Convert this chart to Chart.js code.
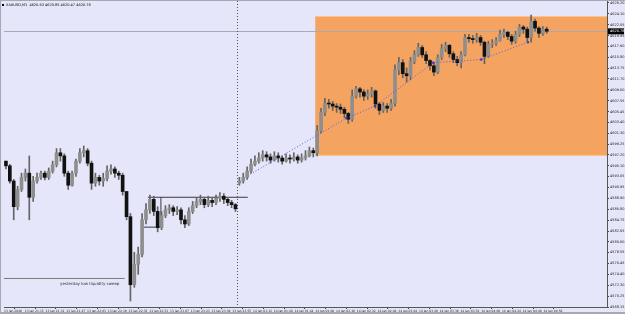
<!DOCTYPE html>
<html>
<head>
<meta charset="utf-8">
<script src="https://cdn.jsdelivr.net/npm/chart.js@4.4.1/dist/chart.umd.min.js"></script>
<style>
html, body { margin: 0; padding: 0; background: #E6E6FA; }
#wrap { width: 625px; height: 314px; position: relative; }
</style>
</head>
<body>
<div id="wrap"><canvas id="chart" width="625" height="314"></canvas></div>
<script>
// XAUUSD M1, shown here as 3-minute candles (bar index = minutes since first bar, break hour removed)
const title = 'XAUUSD,M1  4620.63 4620.85 4620.47 4620.78';
const bidPrice = 4620.78;

const open = [
  4596.0, 4595.1, 4592.2, 4587.3, 4590.6, 4592.9, 4593.7, 4589.1, 4592.2, 4592.9,
  4593.7, 4592.9, 4594.1, 4595.3, 4597.6, 4597.0, 4593.7, 4591.4, 4593.7, 4596.0,
  4597.6, 4598.0, 4595.6, 4591.8, 4592.9, 4592.2, 4592.7, 4594.1, 4594.5, 4593.7,
  4593.3, 4590.2, 4585.4, 4572.4, 4576.3, 4578.2, 4584.8, 4586.7, 4588.7, 4586.4,
  4583.3, 4585.6, 4586.7, 4587.1, 4586.4, 4586.7, 4584.8, 4584.0, 4586.4, 4587.5,
  4588.3, 4588.7, 4587.7, 4588.5, 4588.1, 4588.9, 4589.3, 4588.7, 4588.1, 4587.7,
  4591.8, 4592.2, 4592.9, 4594.1, 4595.4, 4596.0, 4596.6, 4597.2, 4596.8, 4596.2,
  4597.0, 4596.6, 4596.0, 4596.6, 4596.4, 4596.8, 4596.2, 4596.6, 4597.0, 4598.0,
  4597.6, 4601.8, 4605.3, 4607.0, 4606.9, 4606.5, 4606.3, 4605.9, 4605.1, 4604.0,
  4608.4, 4609.8, 4609.2, 4608.4, 4608.8, 4609.4, 4606.9, 4605.7, 4606.5, 4606.1,
  4607.0, 4613.4, 4614.8, 4612.7, 4612.3, 4615.0, 4616.3, 4617.7, 4616.3, 4615.2,
  4614.2, 4613.0, 4615.8, 4617.5, 4618.1, 4616.5, 4615.4, 4614.8, 4616.3, 4619.6,
  4619.4, 4619.2, 4619.6, 4618.7, 4616.0, 4618.3, 4618.5, 4619.0, 4620.2, 4620.6,
  4619.8, 4618.9, 4620.2, 4621.6, 4621.2, 4619.6, 4622.7, 4621.4, 4620.4, 4621.2
];
const high = [
  4596.0, 4595.4, 4592.5, 4591.2, 4593.7, 4594.5, 4597.0, 4593.1, 4593.7, 4594.1,
  4594.1, 4594.7, 4596.0, 4598.4, 4598.4, 4597.4, 4594.1, 4594.1, 4596.4, 4598.4,
  4598.9, 4598.4, 4596.0, 4593.7, 4593.3, 4593.7, 4595.1, 4595.3, 4594.9, 4594.1,
  4593.7, 4590.2, 4586.0, 4578.6, 4579.6, 4586.0, 4587.9, 4589.5, 4589.3, 4587.3,
  4586.4, 4587.5, 4587.7, 4587.5, 4587.3, 4587.1, 4585.6, 4587.1, 4588.3, 4589.1,
  4589.5, 4589.1, 4589.3, 4589.1, 4589.5, 4590.0, 4589.8, 4588.9, 4588.5, 4587.9,
  4592.9, 4593.7, 4594.9, 4596.4, 4597.0, 4597.6, 4598.0, 4597.8, 4597.4, 4597.8,
  4597.6, 4597.0, 4597.4, 4597.2, 4597.6, 4597.2, 4597.4, 4598.0, 4598.7, 4598.5,
  4602.8, 4606.1, 4608.0, 4607.8, 4607.4, 4607.0, 4606.9, 4606.3, 4605.3, 4609.6,
  4610.3, 4610.1, 4609.6, 4609.6, 4610.1, 4609.6, 4607.2, 4607.2, 4607.0, 4607.8,
  4614.4, 4615.8, 4615.4, 4613.8, 4615.8, 4617.1, 4618.5, 4618.1, 4616.9, 4615.4,
  4614.8, 4616.3, 4618.3, 4618.7, 4618.3, 4616.9, 4616.0, 4616.9, 4620.2, 4620.2,
  4620.0, 4620.4, 4620.0, 4618.9, 4618.9, 4619.2, 4619.6, 4621.0, 4621.2, 4620.8,
  4620.2, 4620.8, 4622.1, 4621.9, 4621.6, 4623.9, 4623.1, 4621.7, 4621.7, 4621.6
];
const low = [
  4594.5, 4591.8, 4584.8, 4586.7, 4590.2, 4592.2, 4584.8, 4588.3, 4591.8, 4592.5,
  4592.4, 4592.5, 4593.7, 4594.9, 4596.0, 4593.1, 4590.6, 4591.2, 4593.1, 4595.6,
  4596.8, 4595.1, 4590.6, 4591.2, 4591.4, 4591.2, 4592.2, 4593.5, 4592.9, 4592.5,
  4589.5, 4584.8, 4569.3, 4571.9, 4574.4, 4577.7, 4584.0, 4586.0, 4585.6, 4582.5,
  4582.9, 4585.2, 4586.0, 4585.6, 4585.8, 4584.0, 4583.3, 4583.7, 4586.0, 4587.1,
  4587.7, 4587.1, 4587.3, 4587.3, 4587.7, 4588.3, 4587.9, 4587.5, 4587.1, 4586.4,
  4591.4, 4591.8, 4592.5, 4593.7, 4595.1, 4595.6, 4596.0, 4596.0, 4595.6, 4596.0,
  4595.8, 4595.4, 4595.8, 4595.6, 4596.0, 4595.6, 4595.8, 4596.2, 4596.8, 4596.8,
  4597.0, 4601.4, 4604.7, 4606.1, 4605.7, 4605.3, 4605.1, 4604.3, 4603.2, 4603.6,
  4608.0, 4608.2, 4607.6, 4607.8, 4608.2, 4606.1, 4604.9, 4605.3, 4605.3, 4605.7,
  4606.5, 4612.5, 4611.9, 4611.1, 4611.5, 4614.6, 4616.0, 4615.8, 4614.6, 4613.4,
  4612.3, 4612.7, 4615.4, 4616.9, 4615.8, 4614.8, 4614.2, 4613.8, 4616.1, 4618.7,
  4618.5, 4618.7, 4618.1, 4614.6, 4615.8, 4617.7, 4618.1, 4618.9, 4619.6, 4619.2,
  4618.3, 4618.5, 4619.8, 4620.4, 4618.9, 4618.7, 4620.8, 4619.6, 4620.0, 4620.4
];
const close = [
  4595.1, 4592.2, 4587.3, 4590.6, 4592.9, 4593.7, 4589.1, 4592.2, 4592.9, 4593.7,
  4592.9, 4594.1, 4595.3, 4597.6, 4597.0, 4593.7, 4591.4, 4593.7, 4596.0, 4597.6,
  4598.0, 4595.6, 4591.8, 4592.9, 4592.2, 4592.7, 4594.1, 4594.5, 4593.7, 4593.3,
  4590.2, 4585.4, 4572.4, 4576.3, 4578.2, 4584.8, 4586.7, 4588.7, 4586.4, 4583.3,
  4585.6, 4586.7, 4587.1, 4586.4, 4586.7, 4584.8, 4584.0, 4586.4, 4587.5, 4588.3,
  4588.7, 4587.7, 4588.5, 4588.1, 4588.9, 4589.3, 4588.7, 4588.1, 4587.7, 4586.9,
  4592.2, 4592.9, 4594.1, 4595.4, 4596.0, 4596.6, 4597.2, 4596.8, 4596.2, 4597.0,
  4596.6, 4596.0, 4596.6, 4596.4, 4596.8, 4596.2, 4596.6, 4597.0, 4598.0, 4597.6,
  4601.8, 4605.3, 4607.0, 4606.9, 4606.5, 4606.3, 4605.9, 4605.1, 4604.0, 4608.4,
  4609.8, 4609.2, 4608.4, 4608.8, 4609.4, 4606.9, 4605.7, 4606.5, 4606.1, 4607.0,
  4613.4, 4614.8, 4612.7, 4612.3, 4615.0, 4616.3, 4617.7, 4616.3, 4615.2, 4614.2,
  4613.0, 4615.8, 4617.5, 4618.1, 4616.5, 4615.4, 4614.8, 4616.3, 4619.6, 4619.4,
  4619.2, 4619.6, 4618.7, 4616.0, 4618.3, 4618.5, 4619.0, 4620.2, 4620.6, 4619.8,
  4618.9, 4620.2, 4621.6, 4621.2, 4619.6, 4622.7, 4621.4, 4620.4, 4621.2, 4620.8
];

// time axis: bar index (minutes) and label text
const timeTickPos = [0, 16, 32, 48, 64, 80, 96, 112, 128, 144, 160, 176,
  192, 208, 224, 240, 256, 272, 288, 304, 320, 336, 352, 368, 384, 400, 416];
const timeLabels = ['13 Jan 2026', '13 Jan 21:15', '13 Jan 21:31', '13 Jan 21:47', '13 Jan 22:03',
  '13 Jan 22:19', '13 Jan 22:35', '13 Jan 22:51', '13 Jan 23:07', '13 Jan 23:23', '13 Jan 23:39',
  '13 Jan 23:55', '14 Jan 01:12', '14 Jan 01:28', '14 Jan 01:44', '14 Jan 02:00', '14 Jan 02:16',
  '14 Jan 02:32', '14 Jan 02:48', '14 Jan 03:04', '14 Jan 03:20', '14 Jan 03:36', '14 Jan 03:52',
  '14 Jan 04:08', '14 Jan 04:24', '14 Jan 04:40', '14 Jan 04:56'];
const priceTicks = [4626.20, 4624.10, 4622.05, 4619.95, 4617.90, 4615.80, 4613.75, 4611.70,
  4609.60, 4607.55, 4605.45, 4603.40, 4601.30, 4599.25, 4597.20, 4595.10, 4593.05, 4590.95,
  4588.90, 4586.80, 4584.75, 4582.65, 4580.60, 4578.55, 4576.45, 4574.40, 4572.30, 4570.25, 4568.15];

// drawn objects
const daySeparator = 180;
const zone = { from: 240, top: 4623.7, bottom: 4597.0 };
const trendX = [190, 264, 286, 331, 368, 404];
const trendY = [4593.5, 4604.2, 4606.5, 4614.8, 4615.4, 4618.7];
const rangeTopX = [111, 188], rangeTopY = [4589.1, 4589.1];
const rangeBoxX = [106, 121, 121], rangeBoxY = [4583.4, 4583.4, 4589.1];
const sweepX = [0, 93], sweepY = [4573.6, 4573.6];
const sweepText = 'yesterday low liquidity sweep';

const barX = i => i * 3 + 1.5;
const wicks = open.map((o, i) => ({ x: barX(i), y: [Math.min(low[i], o, close[i]), Math.max(high[i], o, close[i])] }));
const bodies = open.map((o, i) => ({ x: barX(i), y: [o, close[i]] }));
const pts = (xs, ys) => xs.map((x, i) => ({ x: x, y: ys[i] }));

const overlay = {
  id: 'overlay',
  beforeDatasetsDraw(chart) {
    const { ctx, chartArea: a, scales: { x, y } } = chart;
    ctx.save();
    // orange zone
    const zx = x.getPixelForValue(zone.from);
    const zt = y.getPixelForValue(zone.top), zb = y.getPixelForValue(zone.bottom);
    ctx.fillStyle = '#F4A460';
    ctx.fillRect(zx, zt, a.right - zx, zb - zt);
    ctx.strokeStyle = '#FBC48E';
    ctx.lineWidth = 1;
    ctx.beginPath();
    ctx.moveTo(zx, zt + 0.5); ctx.lineTo(a.right, zt + 0.5);
    ctx.moveTo(zx, zb - 0.5); ctx.lineTo(a.right, zb - 0.5);
    ctx.stroke();
    // bid line
    const by = Math.round(y.getPixelForValue(bidPrice)) + 0.5;
    ctx.strokeStyle = '#A9A9B4';
    ctx.beginPath(); ctx.moveTo(a.left, by); ctx.lineTo(a.right, by); ctx.stroke();
    // day separator
    const sx = Math.round(x.getPixelForValue(daySeparator)) + 0.5;
    ctx.strokeStyle = '#555';
    ctx.setLineDash([1, 2]);
    ctx.beginPath(); ctx.moveTo(sx, 1); ctx.lineTo(sx, a.bottom); ctx.stroke();
    ctx.setLineDash([]);
    // label for the sweep line
    ctx.fillStyle = '#333';
    ctx.font = '4px "DejaVu Sans"';
    ctx.textAlign = 'right';
    ctx.textBaseline = 'top';
    ctx.fillText(sweepText, x.getPixelForValue(89), y.getPixelForValue(sweepY[0]) + 3);
    ctx.restore();
  },
  afterDraw(chart) {
    const { ctx, chartArea: a, scales: { y } } = chart;
    ctx.save();
    // window frame
    ctx.fillStyle = '#A8A8B0';
    ctx.fillRect(0, 0, 625, 1);
    ctx.fillRect(0, 312, 625, 2);
    ctx.fillRect(0, 0, 1, 312);
    ctx.fillStyle = '#555';
    ctx.fillRect(a.right, 1, 1, a.top);
    // title
    ctx.fillStyle = '#000';
    ctx.fillRect(2, 4, 2, 2);
    ctx.font = '3.5px "DejaVu Sans"';
    ctx.textBaseline = 'middle';
    ctx.textAlign = 'left';
    ctx.fillText(title, 6, 5);
    // bid price tag
    const by = y.getPixelForValue(bidPrice);
    ctx.fillStyle = '#000';
    ctx.fillRect(a.right + 1, by - 3, 16, 6);
    ctx.fillStyle = '#fff';
    ctx.fillText(bidPrice.toFixed(2), a.right + 3, by);
    ctx.restore();
  }
};

const ctx = document.getElementById('chart').getContext('2d');
new Chart(ctx, {
  type: 'bar',
  data: {
    datasets: [
      { type: 'line', data: pts(trendX, trendY), borderColor: '#5B5BE8', borderWidth: 1, borderDash: [1, 2],
        pointRadius: [0, 1.5, 1.5, 1.5, 1.5, 1.5], pointStyle: 'rect', pointBackgroundColor: '#3030E0',
        pointBorderWidth: 0, order: 0 },
      { type: 'line', data: pts(rangeTopX, rangeTopY), borderColor: '#3A3A3A', borderWidth: 1, pointRadius: 0, order: 3 },
      { type: 'line', data: pts(rangeBoxX, rangeBoxY), borderColor: '#3A3A3A', borderWidth: 1, pointRadius: 0, order: 3 },
      { type: 'line', data: pts(sweepX, sweepY), borderColor: '#7A7A7A', borderWidth: 1, pointRadius: 0, order: 3 },
      { data: wicks, backgroundColor: '#646464', barThickness: 1, grouped: false, order: 2 },
      { data: bodies, barThickness: 3, grouped: false, minBarLength: 1, order: 1,
        backgroundColor: c => { const i = c.dataIndex; return close[i] >= open[i] ? '#8E8E8E' : '#111'; } }
    ]
  },
  options: {
    responsive: false,
    devicePixelRatio: 1,
    animation: false,
    layout: { padding: { top: 0, left: 1, right: 0, bottom: 0 } },
    plugins: { legend: { display: false }, tooltip: { enabled: false } },
    scales: {
      x: {
        type: 'linear', min: 0, max: 465, offset: false,
        afterBuildTicks: s => { s.ticks = timeTickPos.map(v => ({ value: v })); },
        afterFit: s => { s.height = 7; },
        grid: { display: true, drawOnChartArea: false, tickLength: 2, color: '#444' },
        border: { display: true, color: '#555' },
        ticks: {
          autoSkip: false, maxRotation: 0, minRotation: 0, align: 'start', padding: 0,
          color: '#222', font: { size: 3, family: 'DejaVu Sans' },
          callback: v => { const k = timeTickPos.indexOf(v); return k < 0 ? '' : timeLabels[k]; }
        }
      },
      y: {
        position: 'right', min: 4568.15, max: 4626.0,
        afterBuildTicks: s => { s.ticks = priceTicks.map(v => ({ value: v })); },
        afterFit: s => { s.width = 18; },
        grid: { display: true, drawOnChartArea: false, tickLength: 2, color: '#444' },
        border: { display: true, color: '#555' },
        ticks: {
          autoSkip: false, padding: 1, color: '#222', font: { size: 3.5, family: 'DejaVu Sans' },
          callback: v => Number(v).toFixed(2)
        }
      }
    }
  },
  plugins: [overlay]
});
</script>
</body>
</html>
